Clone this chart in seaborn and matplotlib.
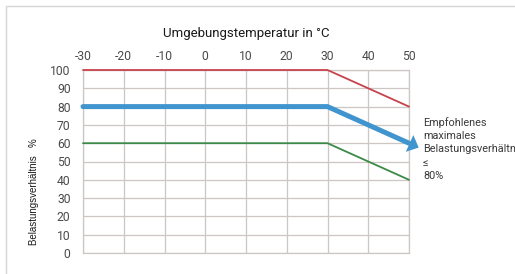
import matplotlib
matplotlib.use("Agg")
import matplotlib.pyplot as plt
import seaborn as sns
from matplotlib.patches import Rectangle

# data
temps = [-30, 30, 50]
max_load = [100, 100, 80]
recommended = [80, 80, 60]
min_load = [60, 60, 40]
x_ticks = [-30, -20, -10, 0, 10, 20, 30, 40, 50]
y_ticks = [0, 10, 20, 30, 40, 50, 60, 70, 80, 90, 100]

sns.set_theme(style="white")
plt.rcParams['font.family'] = ['Roboto', 'DejaVu Sans']
plt.rcParams['axes.unicode_minus'] = False

fig = plt.figure(figsize=(5.15, 2.74), dpi=100)
ax = fig.add_axes([83 / 515, 1 - 253 / 274, 326 / 515, 183 / 274])

grid_col = "#cdc6c2"
ax.set_xlim(-30, 50)
ax.set_ylim(0, 100)
ax.set_xticks(x_ticks)
ax.set_yticks(y_ticks)
ax.grid(True, color=grid_col, linewidth=0.9)
for s in ax.spines.values():
    s.set_color(grid_col)
    s.set_linewidth(0.9)

ax.xaxis.tick_top()
ax.tick_params(axis="both", length=0, labelsize=8.7, labelcolor="#4a4a4a")
ax.tick_params(axis="x", pad=5)
ax.tick_params(axis="y", pad=9)

sns.lineplot(x=temps, y=max_load, color="#c8424c", linewidth=1.3, ax=ax, clip_on=False, zorder=5)
sns.lineplot(x=temps, y=min_load, color="#3b8a47", linewidth=1.3, ax=ax, clip_on=False, zorder=5)
sns.lineplot(x=temps, y=recommended, color="#4095cf", linewidth=3.6, ax=ax, clip_on=False, zorder=6)
ax.annotate("", xy=(53.0, 57.0), xytext=(49.5, 60.5),
            arrowprops=dict(arrowstyle="-|>,head_length=0.6,head_width=0.55",
                            color="#4095cf", lw=0), annotation_clip=False, zorder=6)

fig.text(246 / 515, 1 - 33 / 274, "Umgebungstemperatur in °C", ha="center", va="center",
         fontsize=9.5, color="#1a1a1a")
fig.text(34 / 515, 1 - 192 / 274, "Belastungsverhältnis   %", rotation=90, ha="center",
         va="center", fontsize=7, color="#1a1a1a", family=["Liberation Sans", "DejaVu Sans"])
fig.text(423 / 515, 1 - 117 / 274, "Empfohlenes\nmaximales\nBelastungsverhältnis\n≤\n80%",
         ha="left", va="top", fontsize=7.8, color="#3a3a3a", linespacing=1.4)

# light frame around the picture
fig.add_artist(Rectangle((6 / 515, -0.1), 1.2, 1 - 6 / 274 + 0.1, transform=fig.transFigure,
                         fill=False, edgecolor="#d6d6d6", linewidth=1))

fig.savefig("out.png", dpi=100)
